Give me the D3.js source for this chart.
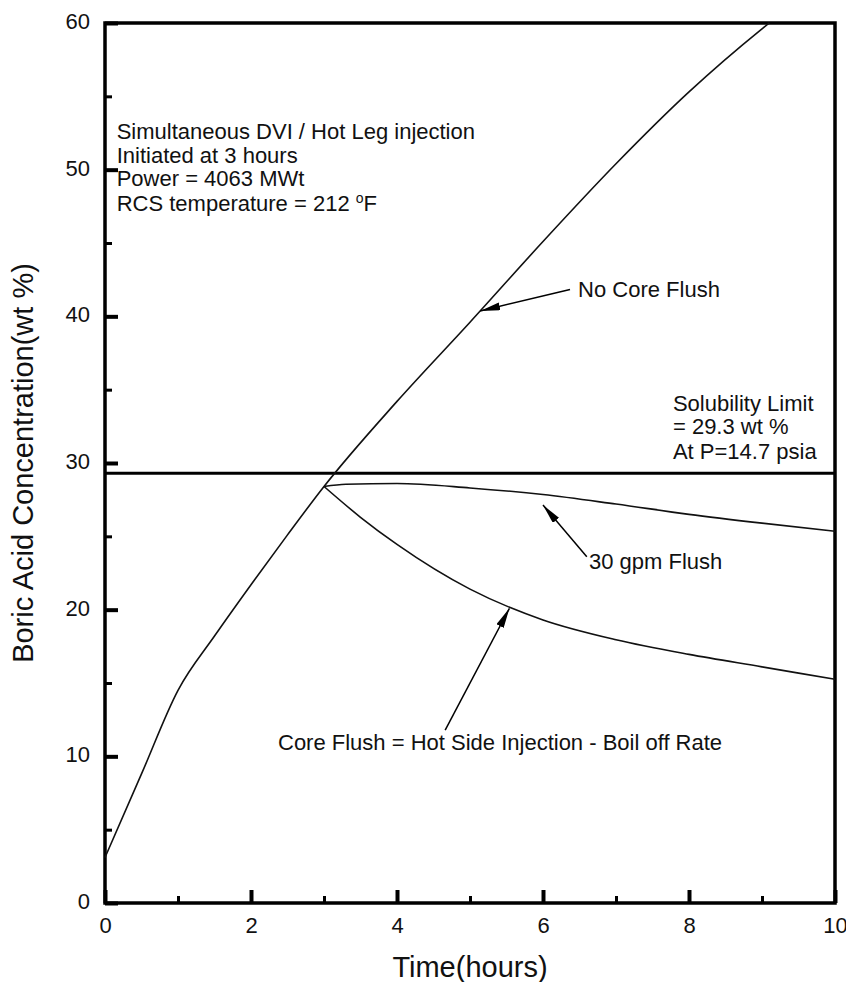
<!DOCTYPE html>
<html lang="en">
<head>
    <meta charset="UTF-8">
    <title>Boric Acid Concentration</title>
    <script src="https://cdn.jsdelivr.net/npm/d3@7"></script>
    <style>
        body { margin: 0; background: #fff; }
        svg text { font-family: "Liberation Sans", Arial, sans-serif; fill: #111; }
        .curve { fill: none; stroke: #111; stroke-width: 1.6px; }
        .frame { fill: none; stroke: #000; stroke-width: 3.5px; }
        .tick line { stroke: #000; }
    </style>
</head>
<body>
<svg width="846" height="982"></svg>
<script>
    // data
    let timeNoFlush = [0, 0.5, 1, 1.5, 2, 2.5, 3, 4, 5, 6, 7, 8, 9, 9.1];
    let concNoFlush = [3.1, 8.8, 14.5, 18.2, 21.7, 25.1, 28.4, 34.2, 39.6, 45.1, 50.4, 55.3, 59.6, 60.0];

    let time30gpm = [3, 3.3, 4, 5, 6, 7, 8, 9, 10];
    let conc30gpm = [28.4, 28.55, 28.6, 28.3, 27.85, 27.2, 26.5, 25.9, 25.35];

    let timeCore = [3, 3.5, 4, 5, 6, 7, 8, 9, 10];
    let concCore = [28.4, 26.3, 24.45, 21.4, 19.3, 17.95, 16.95, 16.1, 15.25];

    let solubilityLimit = 29.3;

    let xMajor = [0, 2, 4, 6, 8, 10];
    let xMinor = [1, 3, 5, 7, 9];
    let yMajor = [0, 10, 20, 30, 40, 50, 60];
    let yMinor = [5, 15, 25, 35, 45, 55];

    var svg = d3.select("svg");
    var margin = {left: 105, right: 11, top: 23, bottom: 79};
    var width = +svg.attr("width") - margin.left - margin.right,
        height = +svg.attr("height") - margin.top - margin.bottom;

    var x = d3.scaleLinear().domain([0, 10]).range([0, width]);
    var y = d3.scaleLinear().domain([0, 60]).range([height, 0]);

    var g = svg.append("g").attr("transform", "translate(" + margin.left + "," + margin.top + ")");

    // axes, ticks pointing inward
    var xAxis = g.append("g").attr("transform", "translate(0," + height + ")")
        .call(d3.axisBottom(x).tickValues(xMajor).tickSizeInner(-13).tickSizeOuter(0).tickPadding(14));
    xAxis.selectAll("line").attr("stroke-width", 4);
    xAxis.selectAll("text").style("font-size", "22px").attr("fill", "#111");
    g.append("g").attr("transform", "translate(0," + height + ")")
        .call(d3.axisBottom(x).tickValues(xMinor).tickSizeInner(-7).tickSizeOuter(0).tickFormat(""))
        .selectAll("line").attr("stroke-width", 3);

    var yAxis = g.append("g")
        .call(d3.axisLeft(y).tickValues(yMajor).tickSizeInner(-13).tickSizeOuter(0).tickPadding(15));
    yAxis.selectAll("line").attr("stroke-width", 4);
    yAxis.selectAll("text").style("font-size", "22px").attr("fill", "#111").attr("dy", "0.25em");
    g.append("g")
        .call(d3.axisLeft(y).tickValues(yMinor).tickSizeInner(-7).tickSizeOuter(0).tickFormat(""))
        .selectAll("line").attr("stroke-width", 3);

    g.selectAll(".domain").remove();

    g.append("rect").attr("class", "frame")
        .attr("x", 0).attr("y", 0).attr("width", width).attr("height", height);

    // solubility limit
    g.append("line")
        .attr("x1", x(0)).attr("x2", x(10))
        .attr("y1", y(solubilityLimit)).attr("y2", y(solubilityLimit))
        .attr("stroke", "#000").attr("stroke-width", 2.8);

    var line = d3.line()
        .x(function (d) { return x(d[0]); })
        .y(function (d) { return y(d[1]); })
        .curve(d3.curveMonotoneX);

    function pairs(t, c) {
        return t.map(function (v, i) { return [v, c[i]]; });
    }

    g.append("path").attr("class", "curve").attr("d", line(pairs(timeNoFlush, concNoFlush)));
    g.append("path").attr("class", "curve").attr("d", line(pairs(time30gpm, conc30gpm)));
    g.append("path").attr("class", "curve").attr("d", line(pairs(timeCore, concCore)));

    // arrows
    svg.append("defs").append("marker")
        .attr("id", "head")
        .attr("viewBox", "0 0 20 8")
        .attr("refX", 20).attr("refY", 4)
        .attr("markerUnits", "userSpaceOnUse")
        .attr("markerWidth", 20).attr("markerHeight", 8)
        .attr("orient", "auto")
        .append("path").attr("d", "M0,0L20,4L0,8Z").attr("fill", "#000");

    let arrows = [
        {from: [6.37, 41.83], to: [5.14, 40.37]},
        {from: [6.60, 23.61], to: [6.00, 27.13]},
        {from: [4.66, 11.79], to: [5.54, 20.09]}
    ];
    g.selectAll(".arrow").data(arrows).enter().append("line")
        .attr("class", "arrow")
        .attr("x1", function (d) { return x(d.from[0]); })
        .attr("y1", function (d) { return y(d.from[1]); })
        .attr("x2", function (d) { return x(d.to[0]); })
        .attr("y2", function (d) { return y(d.to[1]); })
        .attr("stroke", "#000").attr("stroke-width", 1.5)
        .attr("marker-end", "url(#head)");

    // labels
    let labels = [
        {t: "Simultaneous DVI / Hot Leg injection", at: [0.16, 52.08]},
        {t: "Initiated at 3 hours", at: [0.16, 50.46]},
        {t: "Power = 4063 MWt", at: [0.16, 48.88]},
        {t: "No Core Flush", at: [6.48, 41.33]},
        {t: "Solubility Limit", at: [7.78, 33.56]},
        {t: "= 29.3 wt %", at: [7.78, 31.95]},
        {t: "At P=14.7 psia", at: [7.78, 30.29]},
        {t: "30 gpm Flush", at: [6.63, 22.75]},
        {t: "Core Flush = Hot Side Injection - Boil off Rate", at: [2.37, 10.43]}
    ];
    g.selectAll(".lab").data(labels).enter().append("text")
        .attr("class", "lab")
        .attr("x", function (d) { return x(d.at[0]); })
        .attr("y", function (d) { return y(d.at[1]); })
        .style("font-size", "22px")
        .text(function (d) { return d.t; });

    var rcs = g.append("text")
        .attr("x", x(0.16)).attr("y", y(47.2))
        .style("font-size", "22px");
    rcs.append("tspan").text("RCS temperature = 212 ");
    rcs.append("tspan").attr("dy", "-8").style("font-size", "14px").text("o");
    rcs.append("tspan").attr("dy", "8").text("F");

    // axis titles
    g.append("text")
        .attr("x", width / 2).attr("y", height + 74)
        .attr("text-anchor", "middle")
        .style("font-size", "29px")
        .text("Time(hours)");

    g.append("text")
        .attr("transform", "translate(" + (-72) + "," + (height / 2) + ") rotate(-90)")
        .attr("text-anchor", "middle")
        .style("font-size", "29px")
        .text("Boric Acid Concentration(wt %)");
</script>
</body>
</html>
